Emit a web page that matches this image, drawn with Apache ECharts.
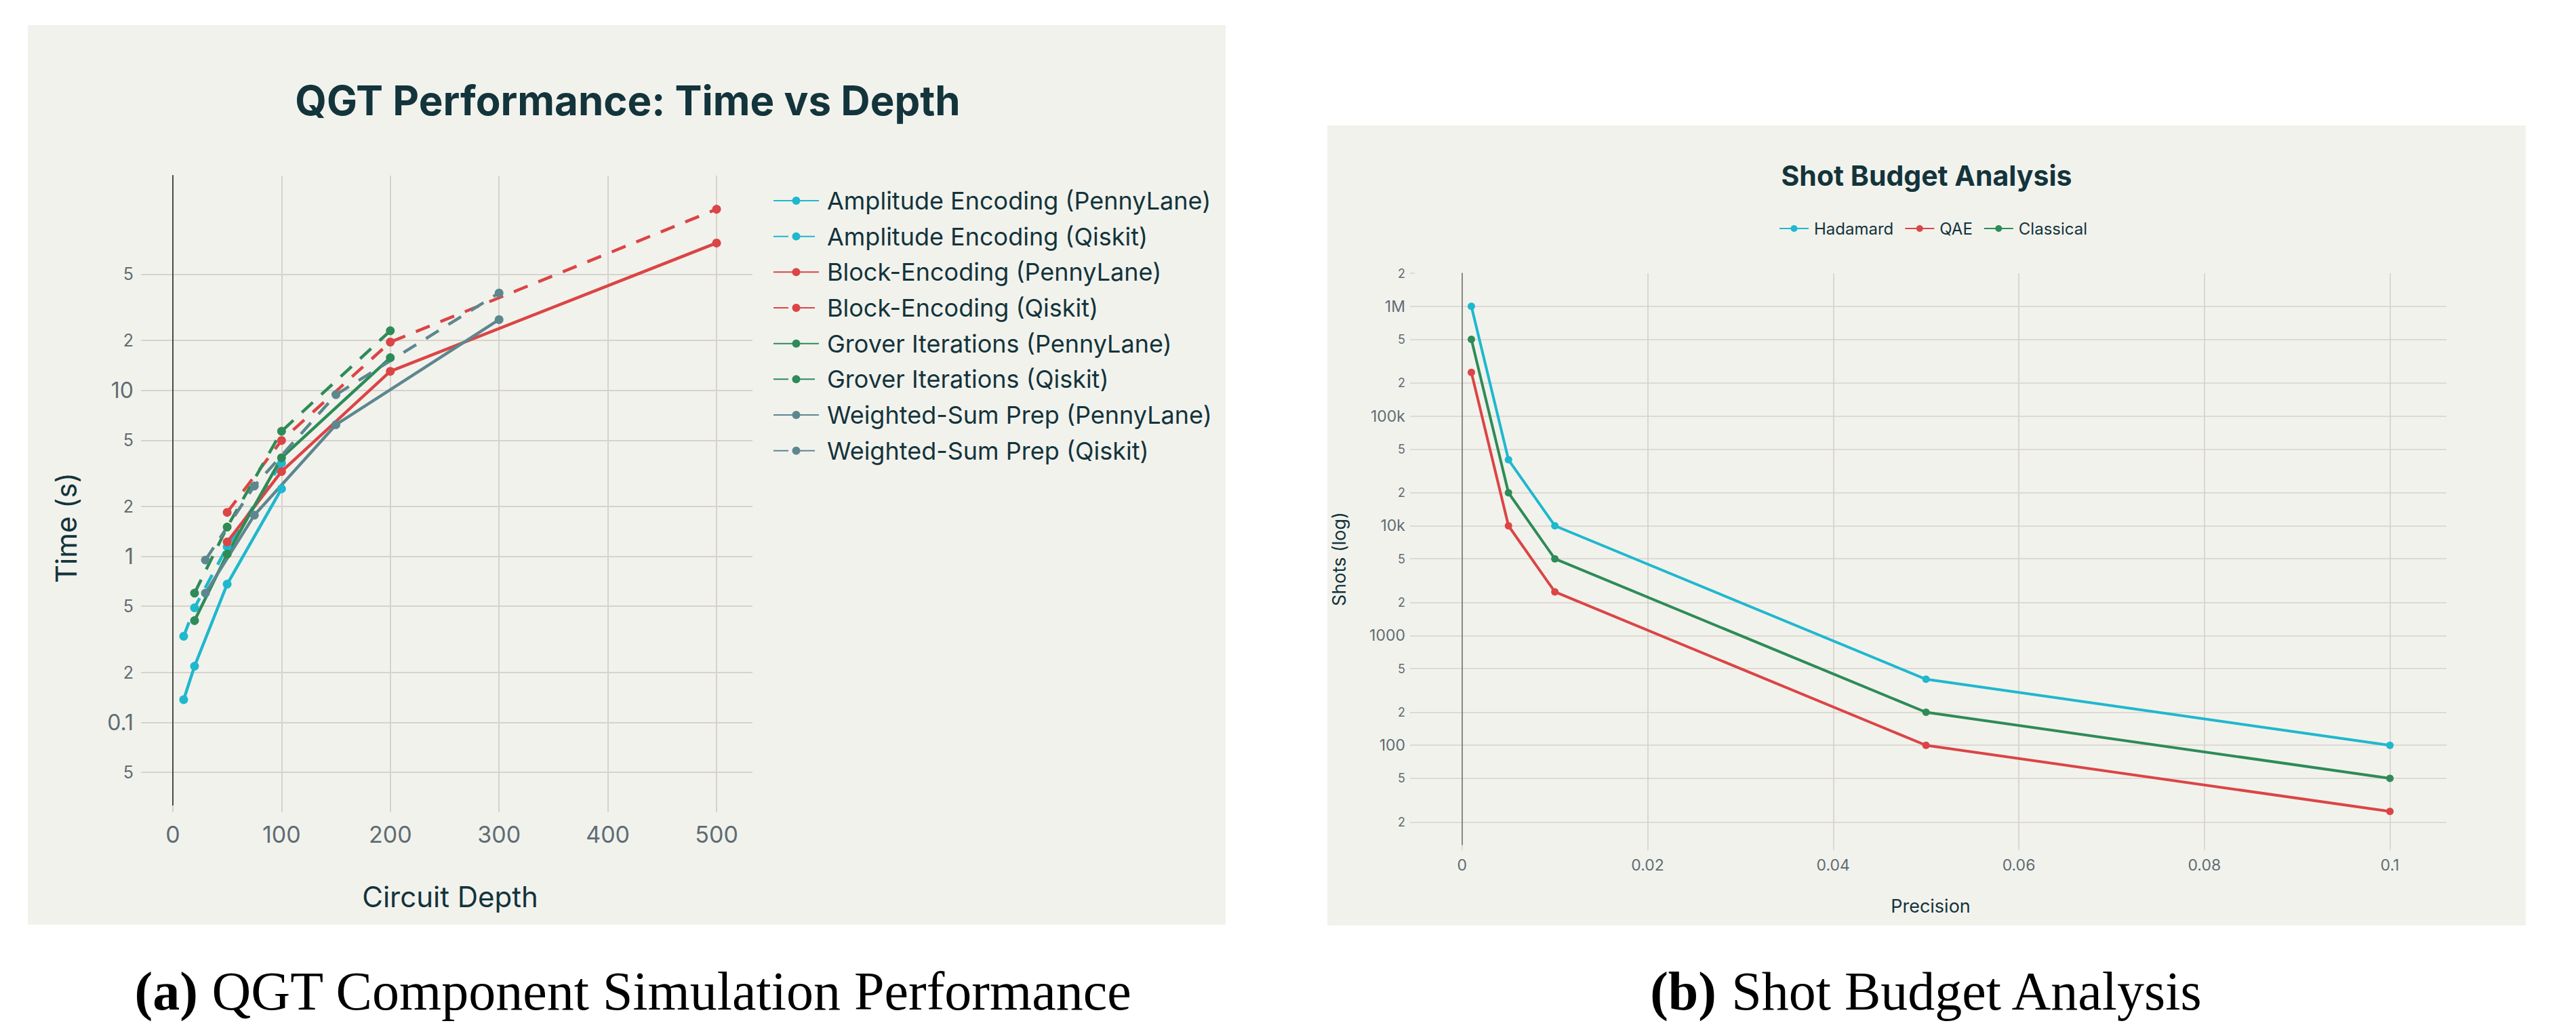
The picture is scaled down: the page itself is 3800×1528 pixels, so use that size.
<!DOCTYPE html>
<html>
<head>
<meta charset="utf-8">
<script src="https://cdn.jsdelivr.net/npm/echarts@6/dist/echarts.min.js"></script>
<style>
html,body{margin:0;padding:0;background:#ffffff;}
#chart{width:3800px;height:1528px;}
</style>
</head>
<body>
<div id="chart"></div>
<script>
// ---------------- data: panel (a) ----------------
const seriesNamesA = [
  'Amplitude Encoding (PennyLane)', 'Amplitude Encoding (Qiskit)',
  'Block-Encoding (PennyLane)', 'Block-Encoding (Qiskit)',
  'Grover Iterations (PennyLane)', 'Grover Iterations (Qiskit)',
  'Weighted-Sum Prep (PennyLane)', 'Weighted-Sum Prep (Qiskit)'
];
const amplitudeDepth = [10, 20, 50, 100];
const amplitudePennyLane = [0.137, 0.218, 0.68, 2.55];
const amplitudeQiskit = [0.33, 0.49, 1.14, 3.64];
const blockDepth = [50, 100, 200, 500];
const blockPennyLane = [1.22, 3.24, 13.0, 77];
const blockQiskit = [1.84, 4.98, 19.5, 123];
const groverDepth = [20, 50, 100, 200];
const groverPennyLane = [0.41, 1.03, 3.92, 15.7];
const groverQiskit = [0.60, 1.50, 5.66, 22.8];
const weightedDepth = [30, 75, 150, 300];
const weightedPennyLane = [0.60, 1.77, 6.2, 26.6];
const weightedQiskit = [0.95, 2.65, 9.4, 38.5];

const depthTicks = [0, 100, 200, 300, 400, 500];
const depthRange = [-23, 533];
const timeTicks = [0.05, 0.1, 0.2, 0.5, 1, 2, 5, 10, 20, 50];
const timeTickLabels = ['5', '0.1', '2', '5', '1', '2', '5', '10', '2', '5'];
const timeRange = [0.0316, 196];

// ---------------- data: panel (b) ----------------
const seriesNamesB = ['Hadamard', 'QAE', 'Classical'];
const precision = [0.001, 0.005, 0.01, 0.05, 0.1];
const shotsHadamard = [1000000, 40000, 10000, 400, 100];
const shotsQAE = [250000, 10000, 2500, 100, 25];
const shotsClassical = [500000, 20000, 5000, 200, 50];

const precisionTicks = [0, 0.02, 0.04, 0.06, 0.08, 0.1];
const precisionRange = [-0.0051, 0.1061];
const shotTicks = [20, 50, 100, 200, 500, 1000, 2000, 5000, 10000, 20000, 50000, 100000, 200000, 500000, 1000000, 2000000];
const shotTickLabels = ['2', '5', '100', '2', '5', '1000', '2', '5', '10k', '2', '5', '100k', '2', '5', '1M', '2'];
const shotRange = [12.4, 2000000];

// ---------------- style ----------------
const FONT = 'Inter';
const BG = '#F2F2ED';
const GRID = '#D6D2CC';
const TICK = '#5F6C73';
const DARK = '#13343B';
const CYAN = '#1FB8CD', RED = '#DB4545', GREEN = '#2E8B57', SLATE = '#5D878F';

function pairs(xs, ys) { return xs.map((x, i) => [x, ys[i]]); }

function logLabelFormatter(ticks, labels) {
  return function (v) {
    const i = ticks.findIndex(t => Math.abs(Math.log10(t) - v) < 1e-7);
    if (i < 0) return '';
    const lg = Math.log10(ticks[i]);
    const major = Math.abs(lg - Math.round(lg)) < 1e-7;
    return '{' + (major ? 'mj' : 'mn') + '|' + labels[i] + '}';
  };
}

function lineA(name, xs, ys, color, dashed) {
  return {
    name: name, type: 'line', xAxisIndex: 0, yAxisIndex: 0,
    data: pairs(xs, ys),
    symbol: 'circle', symbolSize: 13,
    lineStyle: { color: color, width: 4.5, type: dashed ? [22, 17] : 'solid' },
    itemStyle: { color: color },
    emphasis: { disabled: true }
  };
}
function lineB(name, xs, ys, color) {
  return {
    name: name, type: 'line', xAxisIndex: 1, yAxisIndex: 2,
    data: pairs(xs, ys),
    symbol: 'circle', symbolSize: 11,
    lineStyle: { color: color, width: 4 },
    itemStyle: { color: color },
    emphasis: { disabled: true }
  };
}

const chart = echarts.init(document.getElementById('chart'), null, { renderer: 'svg', width: 3800, height: 1528 });

const option = {
  animation: false,
  backgroundColor: '#ffffff',
  textStyle: { fontFamily: FONT },
  graphic: [
    { type: 'rect', z: -100, silent: true, shape: { x: 41, y: 37, width: 1767, height: 1327 }, style: { fill: BG } },
    { type: 'rect', z: -100, silent: true, shape: { x: 1958, y: 185, width: 1768, height: 1180 }, style: { fill: BG } }
  ],
  title: [
    { text: 'QGT Performance: Time vs Depth', left: 926, top: 148, textAlign: 'center', textVerticalAlign: 'middle', padding: 0,
      textStyle: { fontFamily: FONT, fontSize: 60, fontWeight: 'bold', color: DARK } },
    { text: 'Shot Budget Analysis', left: 2842, top: 259, textAlign: 'center', textVerticalAlign: 'middle', padding: 0,
      textStyle: { fontFamily: FONT, fontSize: 41, fontWeight: 'bold', color: DARK } },
    { text: '{b|(a)} QGT Component Simulation Performance', left: 934, top: 1462, textAlign: 'center', textVerticalAlign: 'middle', padding: 0,
      textStyle: { fontFamily: 'Liberation Serif', fontSize: 80, fontWeight: 'normal', color: '#000000',
        rich: { b: { fontFamily: 'Liberation Serif', fontSize: 80, fontWeight: 'bold', color: '#000000' } } } },
    { text: '{b|(b)} Shot Budget Analysis', left: 2842, top: 1462, textAlign: 'center', textVerticalAlign: 'middle', padding: 0,
      textStyle: { fontFamily: 'Liberation Serif', fontSize: 80, fontWeight: 'normal', color: '#000000',
        rich: { b: { fontFamily: 'Liberation Serif', fontSize: 80, fontWeight: 'bold', color: '#000000' } } } }
  ],
  legend: [
    { data: seriesNamesA, orient: 'vertical', left: 1140, top: 276, padding: 0,
      itemWidth: 67, itemHeight: 15, itemGap: 12.67,
      textStyle: { fontFamily: FONT, fontSize: 36, color: DARK, lineHeight: 40, padding: [0, 0, 0, 7] } },
    { data: seriesNamesB, orient: 'horizontal', left: 2624, top: 322, padding: 0,
      itemWidth: 43, itemHeight: 12.5, itemGap: 16,
      textStyle: { fontFamily: FONT, fontSize: 24, color: DARK, lineHeight: 30, padding: [0, 0, 0, 3] } }
  ],
  grid: [
    { left: 218, top: 259, width: 892, height: 929, show: false, containLabel: false, outerBoundsMode: 'none' },
    { left: 2087, top: 403, width: 1522, height: 843, show: false, containLabel: false, outerBoundsMode: 'none' }
  ],
  xAxis: [
    { gridIndex: 0, type: 'value', min: depthRange[0], max: depthRange[1],
      axisLine: { show: false, onZero: false },
      axisTick: { show: true, customValues: depthTicks, length: 10, lineStyle: { color: GRID, width: 2 } },
      axisLabel: { customValues: depthTicks, margin: 25, fontFamily: FONT, fontSize: 34, color: TICK },
      splitLine: { show: true, lineStyle: { color: GRID, width: 2 } },
      name: 'Circuit Depth', nameLocation: 'middle', nameGap: 113,
      nameTextStyle: { fontFamily: FONT, fontSize: 42, color: DARK } },
    { gridIndex: 1, type: 'value', min: precisionRange[0], max: precisionRange[1],
      axisLine: { show: false, onZero: false },
      axisTick: { show: true, customValues: precisionTicks, length: 8, lineStyle: { color: GRID, width: 1.5 } },
      axisLabel: { customValues: precisionTicks, margin: 18, fontFamily: FONT, fontSize: 23, color: TICK },
      splitLine: { show: true, lineStyle: { color: GRID, width: 1.7 } },
      name: 'Precision', nameLocation: 'middle', nameGap: 77,
      nameTextStyle: { fontFamily: FONT, fontSize: 27, color: DARK } }
  ],
  yAxis: [
    { gridIndex: 0, type: 'log', logBase: 10, min: timeRange[0], max: timeRange[1], position: 'left',
      axisLine: { show: true, onZero: true, lineStyle: { color: '#4A4A4A', width: 2 } },
      axisTick: { show: false }, axisLabel: { show: false }, splitLine: { show: false } },
    { gridIndex: 0, type: 'value', position: 'left', min: Math.log10(timeRange[0]), max: Math.log10(timeRange[1]),
      axisLine: { show: false, onZero: false },
      axisTick: { show: true, customValues: timeTicks.map(Math.log10), length: 10, lineStyle: { color: GRID, width: 2 } },
      axisLabel: { customValues: timeTicks.map(Math.log10), margin: 21, color: TICK, fontFamily: FONT,
        formatter: logLabelFormatter(timeTicks, timeTickLabels),
        rich: { mj: { fontSize: 32, color: TICK, fontFamily: FONT }, mn: { fontSize: 25, color: TICK, fontFamily: FONT } } },
      splitLine: { show: true, lineStyle: { color: GRID, width: 2 } },
      name: 'Time (s)', nameLocation: 'middle', nameRotate: 90, nameGap: 100,
      nameTextStyle: { fontFamily: FONT, fontSize: 42, color: DARK, padding: [0, 110, 0, 0] } },
    { gridIndex: 1, type: 'log', logBase: 10, min: shotRange[0], max: shotRange[1], position: 'left',
      axisLine: { show: true, onZero: true, lineStyle: { color: '#7A7A7A', width: 1.7 } },
      axisTick: { show: false }, axisLabel: { show: false }, splitLine: { show: false } },
    { gridIndex: 1, type: 'value', position: 'left', min: Math.log10(shotRange[0]), max: Math.log10(shotRange[1]),
      axisLine: { show: false, onZero: false },
      axisTick: { show: true, customValues: shotTicks.map(Math.log10), length: 7, lineStyle: { color: GRID, width: 1.5 } },
      axisLabel: { customValues: shotTicks.map(Math.log10), margin: 14, color: TICK, fontFamily: FONT,
        formatter: logLabelFormatter(shotTicks, shotTickLabels),
        rich: { mj: { fontSize: 23, color: TICK, fontFamily: FONT }, mn: { fontSize: 18, color: TICK, fontFamily: FONT } } },
      splitLine: { show: true, showMaxLine: false, lineStyle: { color: GRID, width: 1.7 } },
      name: 'Shots (log)', nameLocation: 'middle', nameRotate: 90, nameGap: 98,
      nameTextStyle: { fontFamily: FONT, fontSize: 27, color: DARK } }
  ],
  series: [
    lineA(seriesNamesA[0], amplitudeDepth, amplitudePennyLane, CYAN, false),
    lineA(seriesNamesA[1], amplitudeDepth, amplitudeQiskit, CYAN, true),
    lineA(seriesNamesA[2], blockDepth, blockPennyLane, RED, false),
    lineA(seriesNamesA[3], blockDepth, blockQiskit, RED, true),
    lineA(seriesNamesA[4], groverDepth, groverPennyLane, GREEN, false),
    lineA(seriesNamesA[5], groverDepth, groverQiskit, GREEN, true),
    lineA(seriesNamesA[6], weightedDepth, weightedPennyLane, SLATE, false),
    lineA(seriesNamesA[7], weightedDepth, weightedQiskit, SLATE, true),
    lineB(seriesNamesB[0], precision, shotsHadamard, CYAN),
    lineB(seriesNamesB[1], precision, shotsQAE, RED),
    lineB(seriesNamesB[2], precision, shotsClassical, GREEN)
  ]
};
chart.setOption(option);
</script>
</body>
</html>
